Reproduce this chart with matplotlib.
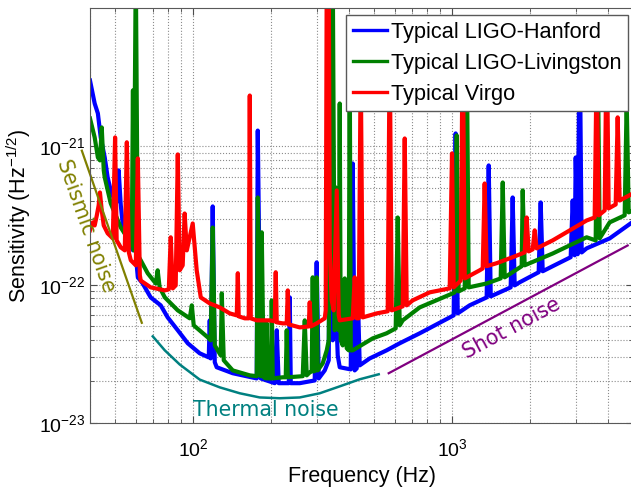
import numpy as np
import matplotlib.pyplot as plt
from matplotlib.ticker import FixedLocator, NullFormatter

plt.rcParams['font.family'] = ['Liberation Sans', 'DejaVu Sans']
plt.rcParams['mathtext.fontset'] = 'custom'
plt.rcParams['mathtext.rm'] = 'Liberation Sans'
plt.rcParams['mathtext.it'] = 'Liberation Sans:italic'
plt.rcParams['axes.unicode_minus'] = False

# LIGO Hanford (frequency in Hz, ASD in 1/sqrt(Hz))
h_f = [40, 41.7, 42.9, 44.0, 45.6, 46.8, 48.1, 50.3, 51.2, 51.6, 52.6, 53.5, 55.0, 57.0,
       58.6, 59.6, 60.6, 61.2, 63.9, 68.6, 75.0, 79.8, 87.3, 95.4, 106.1, 115.0, 116.0,
       117.0, 119.1, 121.3, 123.4, 142.3, 176.2, 177.8, 182.5, 192.5, 206.8, 210.5, 214.2,
       234.2, 236.3, 238.4, 258.2, 295.0, 300.2, 305.8, 322.5, 334.2, 340.2, 346.3, 355.5,
       362.0, 368.5, 406.4, 413.6, 421.0, 428.5, 432.3, 440.2, 481.1, 558.8, 628.2, 750.4,
       1015, 1033, 1052, 1170, 1361, 1386, 1411, 1685, 1715, 1746, 1825, 2161, 2200, 2240,
       2448, 2873, 2924, 2977, 3004, 3057, 3112, 3168, 3310, 4063, 5000]
h_asd = [2.99e-21, 2.04e-21, 1.73e-21, 1.16e-21, 8.31e-22, 5.96e-22, 4.80e-22, 3.87e-22,
         4.06e-22, 6.70e-22, 3.74e-22, 2.77e-22, 2.20e-22, 1.99e-22, 1.77e-22, 6.37e-22,
         1.38e-22, 1.13e-22, 1.02e-22, 8.09e-23, 7.09e-23, 5.80e-23, 4.68e-23, 3.77e-23,
         3.19e-23, 2.98e-23, 5.52e-23, 2.93e-23, 3.68e-22, 2.75e-23, 2.53e-23, 2.29e-23,
         2.10e-23, 1.30e-21, 2.10e-23, 2.03e-23, 1.94e-23, 4.68e-23, 1.94e-23, 1.94e-23,
         8.09e-23, 1.94e-23, 1.94e-23, 2.03e-23, 1.45e-22, 2.10e-23, 2.40e-23, 2.84e-23,
         4.18e-21, 3.96e-23, 7.70e-23, 3.08e-23, 2.53e-23, 2.44e-23, 7.52e-22, 2.40e-23,
         2.48e-23, 9.09e-23, 2.61e-23, 2.93e-23, 3.35e-23, 3.77e-23, 4.45e-23, 6.00e-23,
         1.24e-21, 6.20e-23, 7.09e-23, 8.09e-23, 7.28e-22, 8.23e-23, 9.56e-23, 4.27e-22,
         9.88e-23, 1.04e-22, 1.23e-22, 3.93e-22, 1.25e-22, 1.36e-22, 1.58e-22, 4.06e-22,
         1.63e-22, 8.31e-22, 1.66e-22, 6.88e-21, 1.71e-22, 1.83e-22, 2.16e-22, 2.85e-22]

# LIGO Livingston
l_f = [40, 41.7, 42.9, 43.7, 44.4, 45.2, 45.6, 48.1, 52.6, 57.5, 58.0, 58.6, 59.0, 60.1,
       61.2, 62.8, 66.8, 71.8, 73.0, 74.3, 77.8, 87.3, 97.1, 98.9, 100.6, 114.0, 117.0,
       119.1, 121.3, 127.9, 129.1, 131.4, 142.3, 165.6, 176.2, 177.8, 182.5, 184.2, 187.5,
       190.9, 192.5, 194.3, 200.0, 201.3, 203.1, 222.0, 228.0, 230.0, 232.2, 265.2, 270.0,
       274.8, 282.2, 287.3, 289.8, 292.4, 297.7, 300.2, 303.0, 316.8, 328.3, 334.2, 340.2,
       343.2, 346.3, 352.5, 355.5, 358.8, 365.2, 368.5, 371.8, 378.5, 385.3, 392.2, 399.3,
       402.7, 406.4, 413.6, 494.1, 558.8, 606.1, 617.1, 628.2, 645.2, 750.4, 1006, 1024,
       1043, 1061, 1120, 1140, 1160, 1361, 1542, 1570, 1598, 1825, 1858, 1875, 1908, 2448,
       3310, 3588, 3652, 3718, 4063, 4643, 4727, 4812, 5000]
l_asd = [1.59e-21, 1.16e-21, 8.31e-22, 7.91e-22, 1.37e-21, 6.70e-22, 5.96e-22, 3.87e-22,
         2.59e-22, 1.99e-22, 1.92e-22, 2.54e-21, 1.77e-22, 2e-20, 1.63e-22, 1.50e-22,
         1.21e-22, 1.02e-22, 1.27e-22, 9.56e-23, 8.09e-23, 6.52e-23, 5.71e-23, 7.09e-23,
         5.08e-23, 4.16e-23, 3.96e-23, 2.59e-22, 3.64e-23, 3.08e-23, 8.65e-23, 2.84e-23,
         2.40e-23, 2.21e-23, 2.18e-23, 4.27e-22, 2.18e-23, 2.39e-22, 2.14e-23, 2.10e-23,
         5.25e-23, 2.10e-23, 2.10e-23, 7.70e-23, 2.10e-23, 2.14e-23, 2.14e-23, 4.68e-23,
         2.14e-23, 2.18e-23, 5.52e-23, 2.21e-23, 2.32e-23, 2.36e-23, 1.13e-22, 2.36e-23,
         2.40e-23, 1.13e-22, 2.40e-23, 2.70e-23, 3.35e-23, 3.96e-23, 2.15e-21, 7.70e-23,
         2e-20, 4.68e-23, 5.05e-22, 5.52e-23, 4.68e-23, 2.04e-21, 3.96e-23, 3.64e-23,
         1.11e-22, 3.47e-23, 3.35e-23, 4.93e-21, 3.35e-23, 3.35e-23, 4.09e-23, 4.45e-23,
         4.83e-23, 3.06e-22, 5.08e-23, 5.52e-23, 6.85e-23, 8.65e-23, 8.80e-23, 1.20e-21,
         8.94e-23, 9.40e-23, 5.82e-21, 9.56e-23, 1.02e-22, 1.11e-22, 5.48e-22, 1.13e-22,
         1.33e-22, 1.36e-22, 4.80e-22, 1.38e-22, 1.68e-22, 2.20e-22, 2.09e-22, 5.82e-21,
         2.16e-22, 2.82e-22, 3.17e-22, 2.15e-21, 3.33e-22, 3.44e-22]

# Virgo
v_f = [40, 41.0, 41.7, 42.5, 43.2, 43.7, 44.4, 45.2, 46.8, 49.0, 50.0, 50.7, 52.6, 54.5,
       55.5, 56.5, 57.5, 60.1, 61.2, 62.3, 62.8, 68.6, 77.8, 80.6, 82.0, 83.5, 85.7, 87.3,
       88.8, 91.2, 92.8, 94.6, 99.7, 103.3, 107.1, 116.0, 126.8, 138.6, 147.5, 148.9, 150.1,
       158.4, 164.1, 165.6, 167.1, 176.2, 197.8, 206.8, 208.6, 210.5, 222.0, 230.0, 232.2,
       234.2, 258.2, 279.7, 282.2, 284.7, 300.2, 322.5, 325.3, 328.3, 334.2, 337.2, 343.2,
       349.3, 358.8, 365.2, 368.5, 413.6, 421.0, 428.5, 436.3, 444.1, 452.1, 512.1, 564.6,
       574.7, 585.1, 645.2, 656.8, 668.6, 705.1, 820.2, 979.8, 1000, 1015, 1080, 1100, 1120,
       1279, 1314, 1337, 1361, 1488, 1715, 1908, 1942, 1978, 2049, 2086, 2123, 2448, 3310,
       3556, 3620, 3685, 3887, 3957, 4027, 4286, 4363, 4441, 5000]
v_asd = [2.47e-22, 2.82e-22, 2.68e-22, 3.17e-22, 3.74e-22, 4.64e-22, 3.44e-22, 2.68e-22,
         2.35e-22, 2.16e-22, 1.16e-21, 2.09e-22, 1.86e-22, 1.77e-22, 1.07e-21, 1.71e-22,
         1.50e-22, 1.38e-22, 8.18e-22, 1.17e-22, 1.07e-22, 9.56e-23, 9.09e-23, 9.25e-23,
         2.20e-22, 9.40e-23, 9.88e-23, 8.74e-22, 1.27e-22, 1.38e-22, 3.27e-22, 1.77e-22,
         2.77e-22, 1.27e-22, 8.09e-23, 7.32e-23, 6.85e-23, 6.20e-23, 6.00e-23, 1.21e-22,
         5.90e-23, 5.71e-23, 5.71e-23, 2.33e-21, 5.71e-23, 5.52e-23, 5.52e-23, 5.43e-23,
         1.23e-22, 5.34e-23, 5.25e-23, 5.25e-23, 9.09e-23, 5.16e-23, 4.91e-23, 4.99e-23,
         7.45e-23, 4.99e-23, 5.25e-23, 5.71e-23, 6.52e-23, 2e-20, 2e-20, 1.77e-22, 7.70e-23,
         6.52e-23, 4.80e-22, 6.00e-23, 5.52e-23, 5.71e-23, 1.13e-22, 5.71e-23, 5.71e-23,
         4.18e-21, 5.80e-23, 6.20e-23, 6.42e-23, 5.82e-21, 6.52e-23, 6.97e-23, 1.14e-21,
         7.09e-23, 7.70e-23, 8.80e-23, 9.40e-23, 8.89e-22, 9.56e-23, 1.07e-22, 6.88e-21,
         1.11e-22, 1.27e-22, 1.31e-22, 5.39e-22, 1.36e-22, 1.43e-22, 1.58e-22, 1.71e-22,
         3.06e-22, 1.74e-22, 1.80e-22, 2.47e-22, 1.83e-22, 2.09e-22, 2.91e-22, 3.06e-22,
         4.18e-21, 3.17e-22, 3.44e-22, 6.88e-21, 3.56e-22, 3.80e-22, 1.62e-21, 4.06e-22,
         4.57e-22]

# noise guide curves
seismic_f = [37.2, 63.4]
seismic_asd = [9.3e-22, 5.3e-23]
thermal_f = [69.9, 77.8, 88.8, 106.1, 126.8, 151.5, 180.9, 216.2, 258.2, 308.5, 368.5, 440.2, 521.2]
thermal_asd = [4.23e-23, 3.35e-23, 2.65e-23, 2.06e-23, 1.81e-23, 1.64e-23, 1.53e-23,
               1.51e-23, 1.53e-23, 1.64e-23, 1.84e-23, 2.07e-23, 2.25e-23]
shot_f = [569.6, 4768]
shot_asd = [2.29e-23, 1.92e-22]

labels = ['Typical LIGO-Hanford', 'Typical LIGO-Livingston', 'Typical Virgo']

fig = plt.figure(figsize=(6.31, 4.91), dpi=100)
ax = fig.add_axes([90/631, 68/491, 543/631, 415/491])

ax.loglog(h_f, h_asd, color='#0000ff', lw=3.0, label=labels[0])
ax.loglog(l_f, l_asd, color='#008000', lw=3.0, label=labels[1])
ax.loglog(v_f, v_asd, color='#ff0000', lw=3.0, label=labels[2])

ax.plot(seismic_f, seismic_asd, color='#808000', lw=1.6, clip_on=False)
ax.plot(thermal_f, thermal_asd, color='#008080', lw=1.8)
ax.plot(shot_f, shot_asd, color='#800080', lw=1.6)

ax.text(38.5, 2.68e-22, 'Seismic noise', color='#808000', fontsize=14.8,
        family='DejaVu Sans', rotation=-70.5, ha='center', va='center')
ax.text(191, 1.235e-23, 'Thermal noise', color='#008080', fontsize=14.8,
        family='DejaVu Sans', ha='center', va='center')
ax.text(1700, 4.83e-23, 'Shot noise', color='#800080', fontsize=14.8,
        family='DejaVu Sans', rotation=28.2, ha='center', va='center')

ax.set_xlim(40, 5000)
ax.set_ylim(1e-23, 1e-20)
ax.set_yticks([1e-23, 1e-22, 1e-21])
ax.yaxis.set_minor_locator(FixedLocator([m * 1e-23 for m in range(2, 10)] +
                                        [m * 1e-22 for m in range(2, 10)]))
ax.yaxis.set_minor_formatter(NullFormatter())
ax.xaxis.set_minor_formatter(NullFormatter())

ax.grid(True, which='both', linestyle=':', color='0.55', lw=0.8)
ax.tick_params(which='both', direction='in', top=True, right=True, colors='0.3',
               labelcolor='black', labelsize=14)
ax.tick_params(which='major', length=5)
ax.tick_params(which='minor', length=3)
ax.tick_params(axis='x', which='major', pad=11)
for s in ax.spines.values():
    s.set_color('0.35')

ax.set_xlabel('Frequency (Hz)', fontsize=15.5)
ax.set_ylabel('Sensitivity (Hz$^{-1/2}$)', fontsize=15.5)

leg = ax.legend(loc='upper right', bbox_to_anchor=(0.9908, 0.9831), borderaxespad=0,
                fontsize=15.7, fancybox=False, framealpha=1, edgecolor='0.35',
                handlelength=1.55, handletextpad=0.2, labelspacing=0.46, borderpad=0.3)
leg.get_frame().set_linewidth(1.0)
for line in leg.get_lines():
    line.set_linewidth(2.4)

plt.savefig('out.png', dpi=100)
